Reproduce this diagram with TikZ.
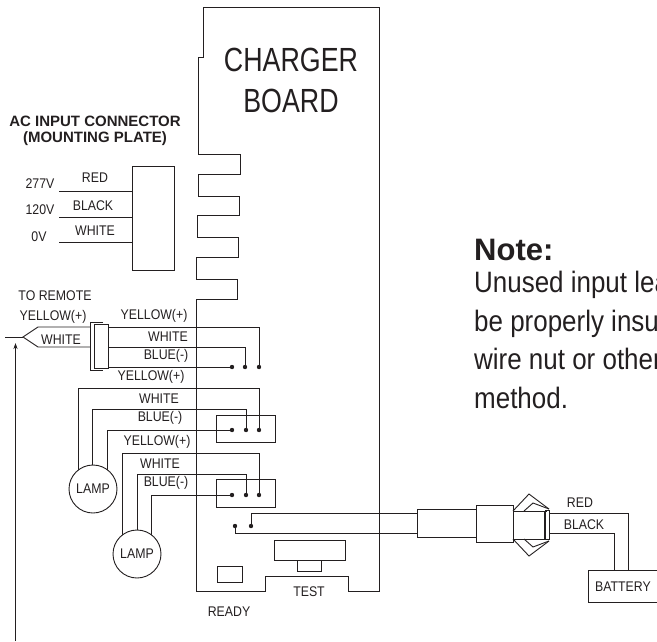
\documentclass[tikz,border=0pt]{standalone}
\usepackage{fontspec}
\setmainfont{Liberation Sans}
\newfontfamily\lblfam[FakeStretch=0.88]{Liberation Sans}
\newfontfamily\bigfam[FakeStretch=0.8]{Liberation Sans}
\usetikzlibrary{arrows.meta}
\definecolor{ink}{HTML}{231F20}
\tikzset{
  wire/.style={draw=ink,line width=0.9pt,line join=miter},
  boxn/.style={draw=ink,line width=0.9pt,inner sep=0pt,outer sep=0pt,rectangle},
  dotn/.style={circle,fill=ink,inner sep=0pt,minimum size=4.4pt},
  lampn/.style={circle,draw=ink,fill=white,line width=0.9pt,inner sep=0pt,minimum size=48pt,font=\lblfam\fontsize{14}{14}\selectfont,text=ink},
  lbl/.style={inner sep=0pt,text=ink,font=\lblfam\fontsize{14}{14}\selectfont},
  titlen/.style={inner sep=0pt,text=ink,font=\bfseries\fontsize{15}{15}\selectfont},
  bign/.style={inner sep=0pt,text=ink,font=\bigfam\fontsize{33.5}{33.5}\selectfont},
  noten/.style={inner sep=0pt,anchor=base west,text=ink,font=\lblfam\fontsize{29.5}{29.5}\selectfont},
}
\begin{document}
\begin{tikzpicture}[x=1pt,y=-1pt]
\useasboundingbox (0,0) rectangle (657,641);
% charger board outline
\draw[wire] (203,7) -- (379,7) -- (379,591) -- (348,591) -- (348,576) -- (265,576) -- (265,591) -- (196,591)
  -- (196,299) -- (237,299) -- (237,279) -- (196,279) -- (196,257) -- (238,257) -- (238,237) -- (197,237)
  -- (197,215) -- (239,215) -- (239,196) -- (198,196) -- (198,174) -- (240,174) -- (240,154) -- (198,154)
  -- (198,57) -- (203,57) -- cycle;
\node[bign] (chg) at (291,60) {CHARGER};
\node[bign] (brd) at (291,101) {BOARD};
% AC connector
\node[titlen] (t1) at (95,121) {AC INPUT CONNECTOR};
\node[titlen] (t2) at (95,139) {(MOUNTING PLATE)};
\node[boxn,minimum width=42pt,minimum height=104pt] (ac) at (153,218) {};
\coordinate (a1) at (59,191);
\coordinate (a2) at (59,217);
\coordinate (a3) at (59,242);
\draw[wire] (a1) -- (a1 -| ac.west);
\draw[wire] (a2) -- (a2 -| ac.west);
\draw[wire] (a3) -- (a3 -| ac.west);
\node[lbl] (v1) at (40,184) {277V};
\node[lbl] (v2) at (40,210) {120V};
\node[lbl] (v3) at (39,237) {0V};
\node[lbl] (c1) at (95,178) {RED};
\node[lbl] (c2) at (93,206) {BLACK};
\node[lbl] (c3) at (95,231) {WHITE};
% remote connector
\node[lbl] (rm) at (55,296) {TO REMOTE};
\node[lbl] (ry) at (53,317) {YELLOW(+)};
\node[lbl] (rw) at (61,340) {WHITE};
\node[boxn,minimum width=14pt,minimum height=44pt] (rc) at (101,346) {};
\draw[wire] (103,322) -- (90,322) -- (90,370) -- (103,370);
\coordinate (tip) at (23,337);
\coordinate (tipl) at (5,337);
\draw[wire] (90,327) -- (38,327) -- (tip) -- (38,347) -- (90,347);
\draw[wire] (tipl) -- (tip);
\coordinate (arrb) at (15.5,641);
\coordinate (arrt) at (15.5,343);
\draw[wire,-{Stealth[length=6pt,width=4pt]}] (arrb) -- (arrt);
% group 1
\node[dotn] (d11) at (232,367) {};
\node[dotn] (d12) at (245,367) {};
\node[dotn] (d13) at (259,367) {};
\draw[wire] (rc.east |- 0,327) -| (d13);
\draw[wire] (rc.east |- 0,347) -| (d12);
\draw[wire] (rc.east |- 0,367) -- (d11);
\node[lbl] at (154,316) (l1) {YELLOW(+)};
\node[lbl] at (168,337) (l2) {WHITE};
\node[lbl] at (166,356) (l3) {BLUE(-)};
% group 2
\node[boxn,minimum width=59pt,minimum height=27pt] (b2) at (245.5,428.5) {};
\node[dotn] (d21) at (232,430) {};
\node[dotn] (d22) at (246,430) {};
\node[dotn] (d23) at (259,430) {};
\coordinate (p21) at (78,489);
\coordinate (p22) at (92,489);
\coordinate (p23) at (107,489);
\draw[wire] (p21) -- (78,388) -- (259,388) -- (d23);
\draw[wire] (p22) -- (92,409) -- (246,409) -- (d22);
\draw[wire] (p23) -- (107,430) -- (d21);
\node[lampn] (lamp1) at (93,489) {LAMP};
\node[lbl] at (151,377) (l4) {YELLOW(+)};
\node[lbl] at (159,399) (l5) {WHITE};
\node[lbl] at (160,418) (l6) {BLUE(-)};
% group 3
\node[boxn,minimum width=59pt,minimum height=28pt] (b3) at (245.5,493) {};
\node[dotn] (d31) at (232,495) {};
\node[dotn] (d32) at (246,495) {};
\node[dotn] (d33) at (259,495) {};
\coordinate (p31) at (122,554);
\coordinate (p32) at (137,554);
\coordinate (p33) at (151,554);
\draw[wire] (p31) -- (122,453) -- (259,453) -- (d33);
\draw[wire] (p32) -- (137,474) -- (246,474) -- (d32);
\draw[wire] (p33) -- (151,495) -- (d31);
\node[lampn] (lamp2) at (137,554) {LAMP};
\node[lbl] at (157,442) (l7) {YELLOW(+)};
\node[lbl] at (160,464) (l8) {WHITE};
\node[lbl] at (166,483) (l9) {BLUE(-)};
% battery harness
\node[dotn] (d41) at (235,526) {};
\node[dotn] (d42) at (251,526) {};
\node[boxn,minimum width=59pt,minimum height=28pt] (h1) at (446.5,523) {};
\node[boxn,minimum width=37pt,minimum height=37pt] (h2) at (494.5,523.5) {};
\draw[wire] (d42) |- (h1.west |- 0,513.5);
\draw[wire] (d41) |- (h1.west |- 0,533.5);
\draw[wire] (h2.east |- 0,511) -- (547,511);
\draw[wire] (h2.east |- 0,539) -- (547,539);
\node[boxn,minimum width=4pt,minimum height=29.5pt] (h3) at (547,525) {};
\draw[draw=ink,line width=2.2pt] (545,511) -- (545,539);
\draw[wire] (513,511) -- (529,494) -- (549,509);
\draw[wire] (524,511) -- (533,503) -- (549,509);
\draw[wire] (513,539) -- (529,556) -- (549,541);
\draw[wire] (524,539) -- (533,547) -- (549,541);
\node[lbl,minimum width=68pt,minimum height=31pt] (bat) at (623,586.5) {BATTERY};
\draw[wire] (bat.north east) -- (bat.north west) -- (bat.south west) -- (bat.south east);
\draw[wire] (h3.east |- 0,513) -| (628,571);
\draw[wire] (h3.east |- 0,533) -| (614,571);
\node[lbl] at (580,503) (r1) {RED};
\node[lbl] at (584,525) (r2) {BLACK};
% test area
\node[boxn,minimum width=71pt,minimum height=20pt] (tb) at (309.5,550) {};
\node[boxn,minimum width=24pt,minimum height=11pt] (ts) at (309,565.5) {};
\node[boxn,minimum width=25pt,minimum height=16pt] (rd) at (229.5,574) {};
\node[lbl] at (309,592) (tt) {TEST};
\node[lbl] at (229,612) (rt) {READY};
% note
\node[inner sep=0pt,anchor=base west,text=ink,font=\bfseries\fontsize{31}{31}\selectfont] (n0) at (474,260) {Note:};
\node[noten] (n1) at (474,292) {Unused input lea};
\node[noten] (n2) at (474,331) {be properly insu};
\node[noten] (n3) at (474,369) {wire nut or other};
\node[noten] (n4) at (474,408) {method.};
\end{tikzpicture}
\end{document}
